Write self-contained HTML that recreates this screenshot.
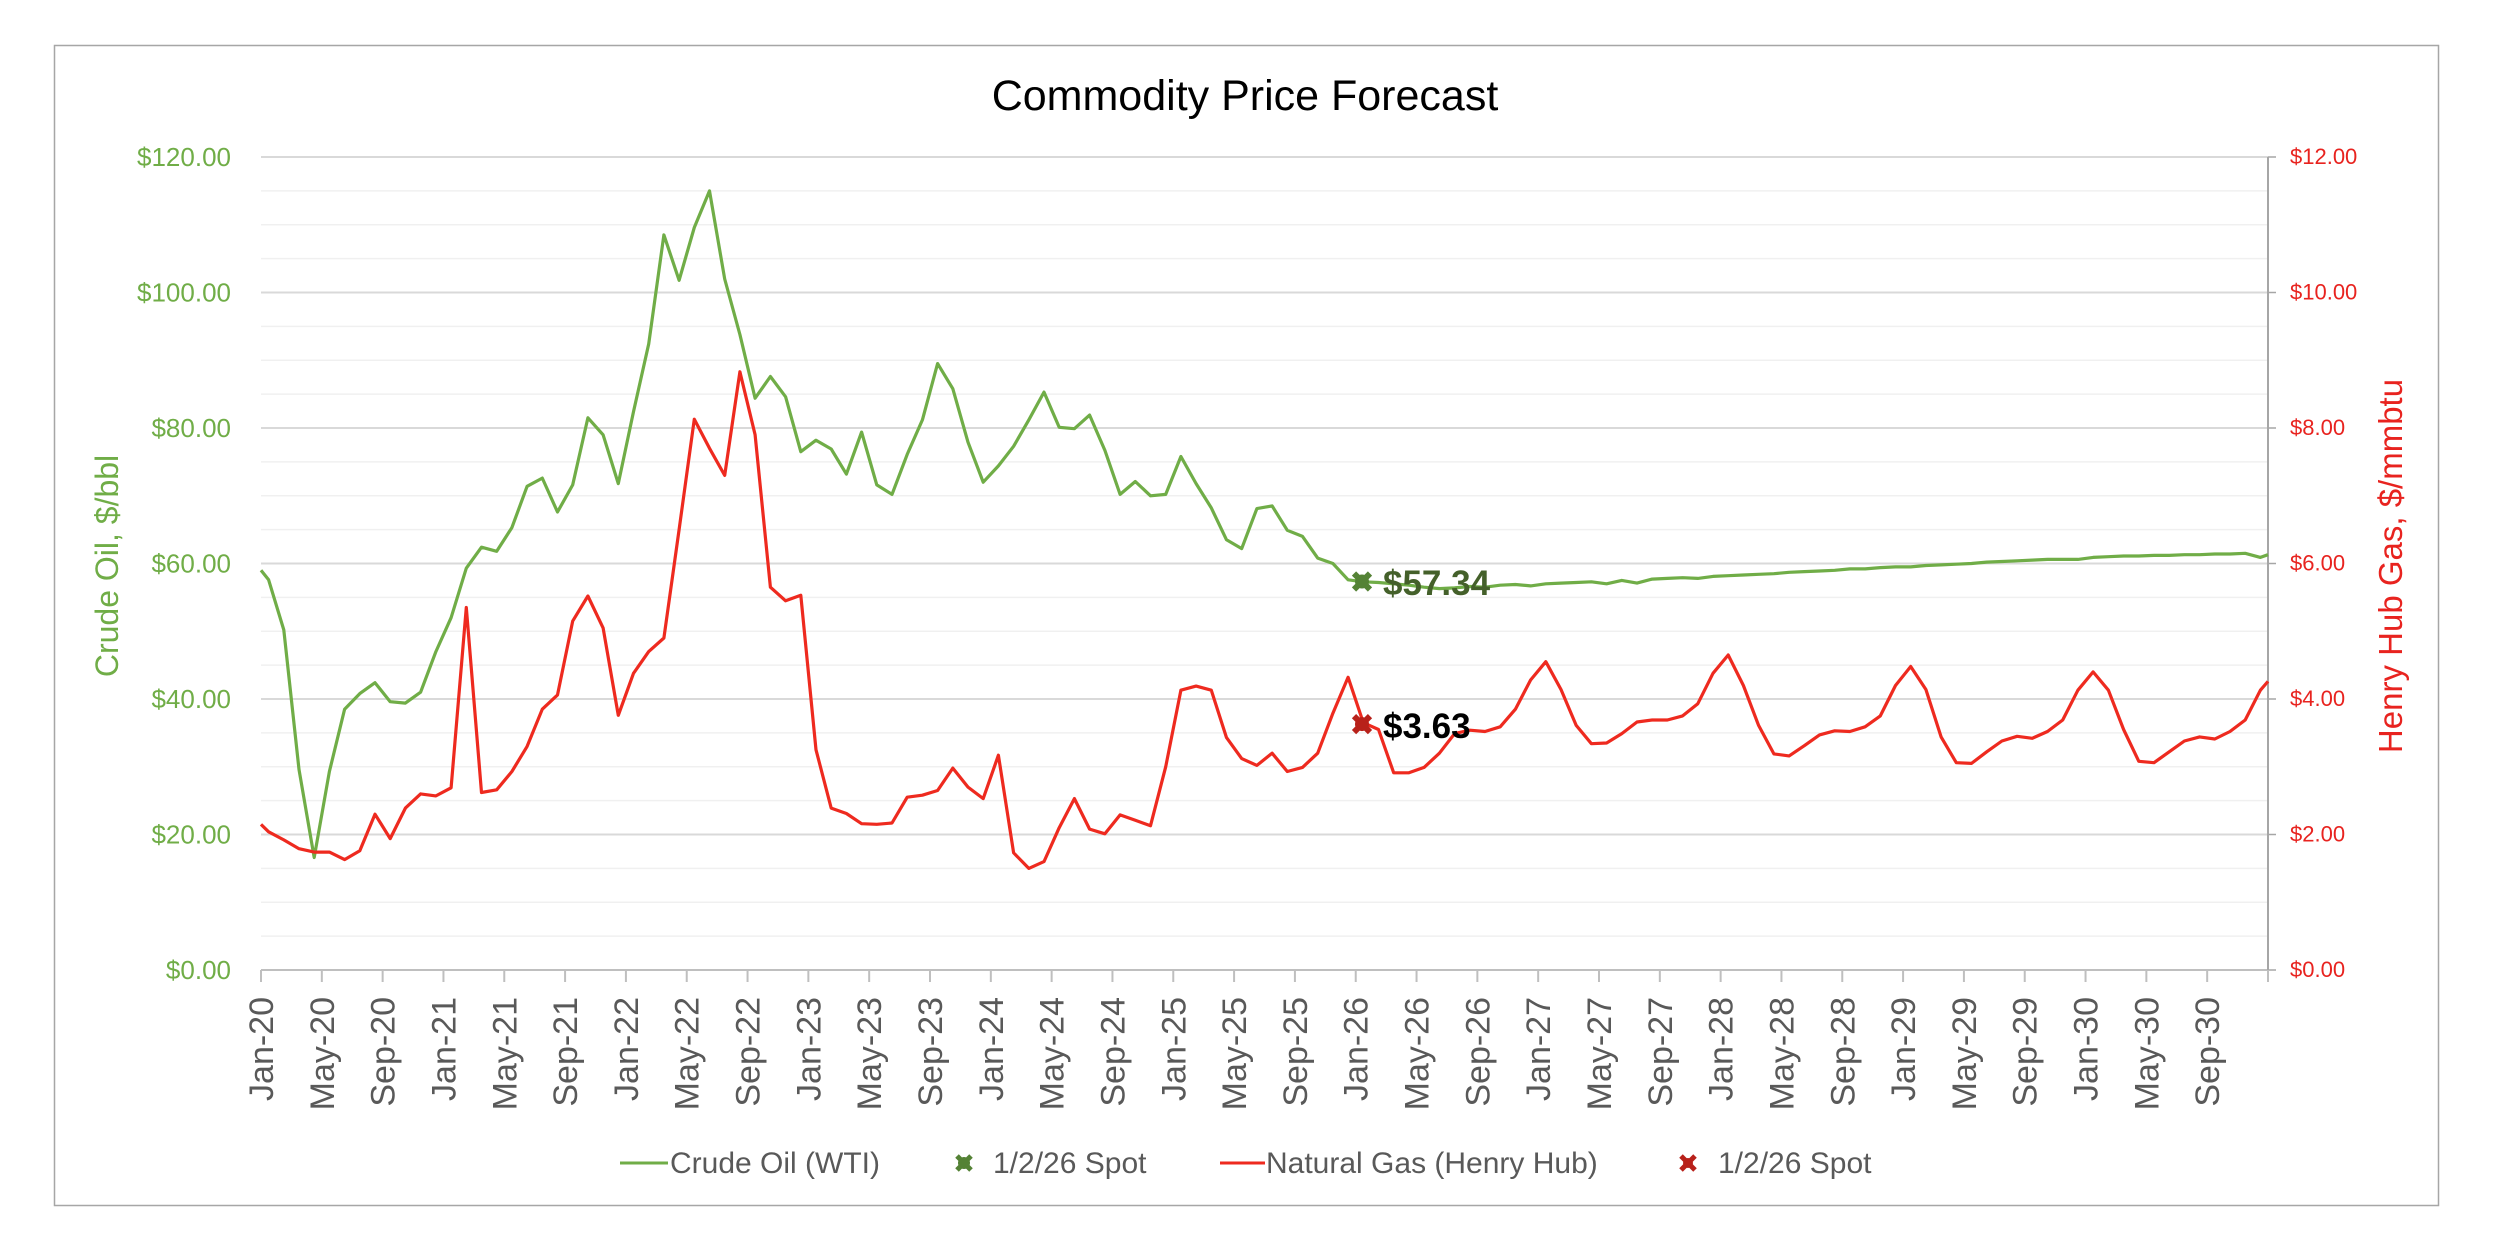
<!DOCTYPE html>
<html><head><meta charset="utf-8">
<style>
html,body{margin:0;padding:0;background:#fff;}
svg{display:block;font-family:"Liberation Sans",sans-serif;}
</style></head>
<body>
<svg id="c" width="2494" height="1248" viewBox="0 0 2494 1248" xmlns="http://www.w3.org/2000/svg">
<rect x="0" y="0" width="2494" height="1248" fill="#fff"/>
<rect x="54.5" y="45.5" width="2384" height="1160" fill="none" stroke="#a6a6a6" stroke-width="1.5"/>
<text x="1245" y="110" font-size="43" text-anchor="middle" fill="#000">Commodity Price Forecast</text>
<g id="grid"></g>
<g id="axes"></g>
<g id="series"></g>
<text transform="translate(118,566) rotate(-90)" font-size="32" fill="#70ad47" text-anchor="middle">Crude Oil, $/bbl</text>
<text transform="translate(2402,566) rotate(-90)" font-size="33" fill="#e8231f" text-anchor="middle">Henry Hub Gas, $/mmbtu</text>
<!-- legend -->
<line x1="620" y1="1163" x2="668" y2="1163" stroke="#70ad47" stroke-width="3"/>
<text x="670" y="1173" font-size="30" fill="#595959">Crude Oil (WTI)</text>
<g transform="translate(964,1163)" fill="#548235"><circle r="6"/><path d="M-7,-7 L7,7 M7,-7 L-7,7" stroke="#548235" stroke-width="5"/></g>
<text x="993" y="1173" font-size="30" fill="#595959">1/2/26 Spot</text>
<line x1="1220" y1="1163" x2="1265" y2="1163" stroke="#ee2a1f" stroke-width="3"/>
<text x="1266" y="1173" font-size="30" fill="#595959">Natural Gas (Henry Hub)</text>
<g transform="translate(1688,1163)" fill="#b8211a"><circle r="5"/><path d="M-7,-7 L7,7 M7,-7 L-7,7" stroke="#b8211a" stroke-width="5"/></g>
<text x="1718" y="1173" font-size="30" fill="#595959">1/2/26 Spot</text>
</svg>
<script>
(function(){
var NS="http://www.w3.org/2000/svg";
function el(tag,attrs,parent,txt){var e=document.createElementNS(NS,tag);for(var k in attrs)e.setAttribute(k,attrs[k]);if(txt!==undefined)e.textContent=txt;parent.appendChild(e);return e;}
var L=261,R=2268,T=157,B=970;
var W=(R-L)/132;
function X(i){return L+(i+0.5)*W;}
function Y(v){return B-v*(B-T)/120;}
var grid=document.getElementById('grid'),axes=document.getElementById('axes'),ser=document.getElementById('series');
for(var v=5;v<=120;v+=5){
  var major=(v%20===0);
  el('line',{x1:L,x2:R,y1:Y(v),y2:Y(v),stroke:major?'#d9d9d9':'#f0f0f0','stroke-width':major?2:1.5},grid);
}
for(var v=0;v<=120;v+=20){
  el('text',{x:231,y:Y(v)+9,'font-size':26,fill:'#70ad47','text-anchor':'end'},axes,'$'+v+'.00');
  el('text',{x:2290,y:Y(v)+7,'font-size':22,fill:'#e8231f'},axes,'$'+(v/10)+'.00');
  el('line',{x1:R,x2:R+8,y1:Y(v),y2:Y(v),stroke:'#a6a6a6','stroke-width':1.5},axes);
}
el('line',{x1:L,x2:R,y1:B,y2:B,stroke:'#bfbfbf','stroke-width':2},axes);
el('line',{x1:R,x2:R,y1:T,y2:B,stroke:'#a6a6a6','stroke-width':2},axes);
var mons=['Jan','May','Sep'];
for(var k=0;k<=33;k++){
  var m=k*4,x=L+m*W;
  el('line',{x1:x,x2:x,y1:B,y2:B+12,stroke:'#bfbfbf','stroke-width':2},axes);
  if(m<132){
    var yr=20+Math.floor(m/12);
    el('text',{transform:'translate('+(x+12)+',997) rotate(-90)','font-size':34,fill:'#595959','text-anchor':'end'},axes,mons[k%3]+'-'+yr);
  }
}
el('line',{x1:R,x2:R,y1:B,y2:B+12,stroke:'#bfbfbf','stroke-width':2},axes);
var oil=[57.6,50.2,29.6,16.6,29.3,38.5,40.8,42.4,39.6,39.4,41,47,52,59.3,62.4,61.8,65.3,71.4,72.6,67.6,71.6,81.5,79,71.8,82.4,92.4,108.5,101.8,109.6,115,102,93.8,84.4,87.6,84.6,76.5,78.2,76.9,73.2,79.4,71.6,70.2,76.1,81.2,89.5,85.8,77.9,72,74.4,77.3,81.2,85.3,80.1,79.9,81.9,76.7,70.2,72.1,70,70.2,75.8,71.8,68.2,63.5,62.2,68.1,68.5,64.9,64,60.8,60,57.6,57.3,57.2,57,56.8,56.5,56.3,56.4,56.6,56.5,56.8,56.9,56.7,57,57.1,57.2,57.3,57,57.5,57.1,57.7,57.8,57.9,57.8,58.1,58.2,58.3,58.4,58.5,58.7,58.8,58.9,59,59.2,59.2,59.4,59.5,59.5,59.7,59.8,59.9,60,60.2,60.3,60.4,60.5,60.6,60.6,60.6,60.9,61,61.1,61.1,61.2,61.2,61.3,61.3,61.4,61.4,61.5,60.9];
var gas=[20.4,19.2,17.9,17.4,17.4,16.3,17.6,23,19.4,23.9,26,25.7,26.9,53.5,26.2,26.6,29.3,33,38.5,40.6,51.5,55.2,50.5,37.6,43.8,47,49,65,81.3,77,73,88.3,79,56.5,54.5,55.3,32.5,23.9,23.1,21.6,21.5,21.7,25.5,25.8,26.5,29.8,27,25.3,31.7,17.3,15,16,21,25.3,20.8,20.1,22.9,22.1,21.3,30,41.3,41.9,41.3,34.3,31.2,30.2,32,29.3,29.9,32,37.9,43.2,36.5,35.5,29.1,29.1,29.9,32,34.9,35.4,35.2,35.9,38.5,42.8,45.5,41.4,36.1,33.4,33.5,34.9,36.6,36.9,36.9,37.5,39.3,43.8,46.5,42,36.1,31.9,31.6,33.1,34.7,35.3,35.2,35.9,37.5,42,44.8,41.4,34.4,30.6,30.5,32.2,33.8,34.5,34.2,35.2,36.9,41.3,44,41.3,35.5,30.8,30.6,32.2,33.8,34.4,34.1,35.2,36.9,41.3];
function pts(arr,first,last){
  var p=[L+','+Y(first)];
  for(var i=0;i<arr.length;i++)p.push(X(i).toFixed(1)+','+Y(arr[i]).toFixed(1));
  p.push(R+','+Y(last));
  return p.join(' ');
}
el('polyline',{points:pts(oil,59,61.3),fill:'none',stroke:'#70ad47','stroke-width':3.2,'stroke-linejoin':'round'},ser);
el('polyline',{points:pts(gas,21.5,42.6),fill:'none',stroke:'#ee2a1f','stroke-width':3.2,'stroke-linejoin':'round'},ser);
function marker(x,y,c){var g=el('g',{transform:'translate('+x+','+y+')',fill:c},ser);el('circle',{r:7},g);el('path',{d:'M-8,-8 L8,8 M8,-8 L-8,8',stroke:c,'stroke-width':6},g);}
marker(1362,Y(57.34),'#548235');
marker(1362,Y(36.3),'#b8211a');
el('text',{x:1383,y:595,'font-size':35,'font-weight':'bold',fill:'#44602a'},ser,'$57.34');
el('text',{x:1383,y:738,'font-size':35,'font-weight':'bold',fill:'#000'},ser,'$3.63');
})();
</script>
</body></html>
